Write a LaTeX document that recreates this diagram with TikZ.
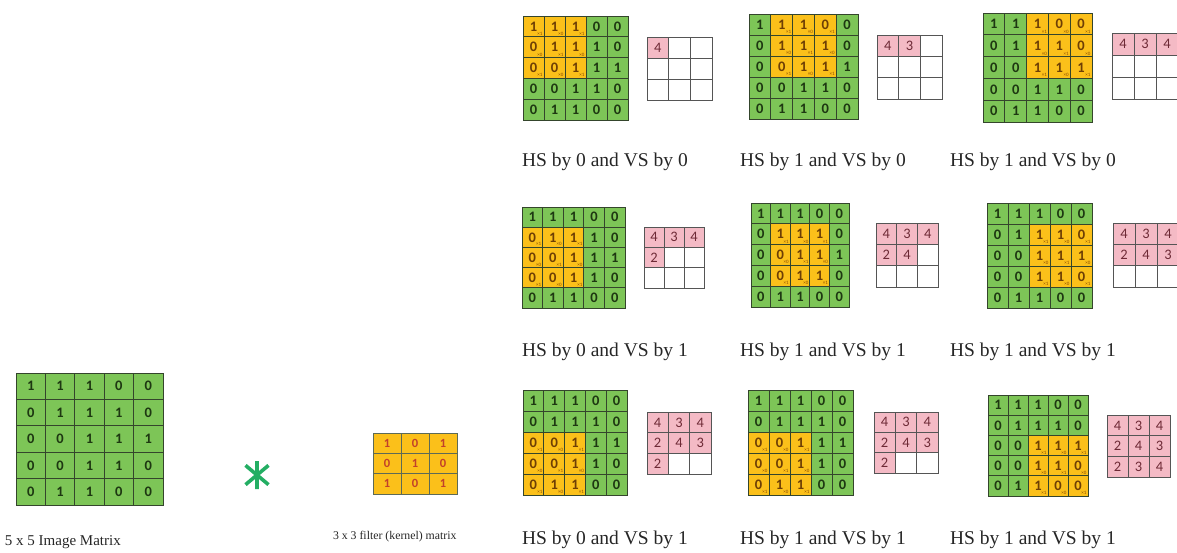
\documentclass[tikz,border=0pt]{standalone}
\usepackage{fontspec}
\setmainfont{Liberation Serif}
\newfontfamily\numfont{Carlito}
\usetikzlibrary{positioning,calc}
\definecolor{cellgreen}{HTML}{7DC557}
\definecolor{gridink}{HTML}{34452C}
\definecolor{digitgreen}{HTML}{1E3812}
\definecolor{window}{HTML}{FBC01A}
\definecolor{digitbrown}{HTML}{6E3F05}
\definecolor{kernred}{HTML}{C2412A}
\definecolor{outpink}{HTML}{F4BAC5}
\definecolor{digitpink}{HTML}{6E2A36}
\definecolor{stargreen}{HTML}{23AE63}
\definecolor{outline}{HTML}{555555}

\begin{document}
\begin{tikzpicture}[x=1pt,y=-1pt,every node/.style={inner sep=0pt,outer sep=0pt},
  gcell/.style={draw=gridink,line width=.8pt,fill=cellgreen,text=digitgreen,font=\numfont\bfseries\fontsize{14.5}{14.5}\selectfont},
  wcell/.style={gcell,fill=window,text=digitbrown},
  kcell/.style={draw=gridink!80,line width=.6pt,fill=window,text=kernred,font=\numfont\bfseries\fontsize{12.5}{12.5}\selectfont},
  ocell/.style={draw=outline,line width=.8pt,fill=white},
  pcell/.style={ocell,fill=outpink,text=digitpink,font=\numfont\fontsize{14.5}{14.5}\selectfont},
  ksub/.style={anchor=south east,text=digitbrown!80!orange,font=\numfont\fontsize{5}{5}\selectfont},
  caption/.style={anchor=west,text=black!85}]
\path[use as bounding box] (0,0) rectangle (1177,552);

% input image
\foreach \row [count=\r from 0] in {{1,1,1,0,0},{0,1,1,1,0},{0,0,1,1,1},{0,0,1,1,0},{0,1,1,0,0}}
  \foreach \v [count=\c from 0] in \row
    \node[gcell,minimum width=29.4pt,minimum height=26.4pt] (img-\r-\c) at ({16+(\c+.5)*29.4},{373+(\r+.5)*26.4}) {\v};
\node[caption,font=\fontsize{15}{15}\selectfont] (imglabel) at (5,542) {5 x 5 Image Matrix};

% convolution sign
\coordinate (star) at (257,475);
\draw[stargreen,line width=3.6pt] ($(star)+(0,-14)$) -- ($(star)+(0,14)$)
  ($(star)+(140:15)$) -- ($(star)+(-40:15)$) ($(star)+(40:15)$) -- ($(star)+(220:15)$);

% kernel
\foreach \row [count=\r from 0] in {{1,0,1},{0,1,0},{1,0,1}}
  \foreach \v [count=\c from 0] in \row
    \node[kcell,minimum width=28pt,minimum height=20.3pt] (ker-\r-\c) at ({373+(\c+.5)*28},{433+(\r+.5)*20.3}) {\v};
\node[caption,font=\fontsize{11.8}{12}\selectfont] (kerlabel) at (333,537) {3 x 3 filter (kernel) matrix};

% sliding window panels
\foreach \pn/\bx/\by/\bw/\bh/\sx/\sy/\sw/\sh/\dc/\dr/\nf in {
  a/523/16/21/20.8/647/37/21.7/21/0/0/1,
  b/749/14/21.8/21/877/35/21.7/21.3/1/0/2,
  c/983/13/21.8/21.8/1112/33/22/22/2/0/3,
  d/522/207/20.6/20.2/644/227/20/20.3/0/1/4,
  e/751/203/19.6/20.8/876/223/20.7/21.3/1/1/5,
  f/987/203/21/21/1113/223/22/21.3/2/1/6,
  g/523/390/20.8/21/647/412/21.3/20.7/0/2/7,
  h/748/390/21/21/874/412/21.3/20.3/0/2/7,
  i/988/395/20/20.2/1107/415/21/20.7/2/2/9}
{
  \foreach \row [count=\r from 0] in {{1,1,1,0,0},{0,1,1,1,0},{0,0,1,1,1},{0,0,1,1,0},{0,1,1,0,0}}
    \foreach \v [count=\c from 0] in \row {
      \pgfmathtruncatemacro\inwin{(\c>=\dc)&&(\c<\dc+3)&&(\r>=\dr)&&(\r<\dr+3)}
      \ifnum\inwin=1
        \pgfmathtruncatemacro\kv{mod(\c-\dc+\r-\dr+1,2)}
        \node[wcell,minimum width=\bw pt,minimum height=\bh pt] (\pn-\r-\c) at ({\bx+(\c+.5)*\bw},{\by+(\r+.5)*\bh}) {\v};
        \node[ksub] (\pn-k\r-\c) at ($(\pn-\r-\c.south east)+(-1.5,-1.5)$) {×\kv};
      \else
        \node[gcell,minimum width=\bw pt,minimum height=\bh pt] (\pn-\r-\c) at ({\bx+(\c+.5)*\bw},{\by+(\r+.5)*\bh}) {\v};
      \fi
    }
  \foreach \v [count=\i from 0] in {4,3,4,2,4,3,2,3,4} {
    \pgfmathtruncatemacro\rr{div(\i,3)}
    \pgfmathtruncatemacro\cc{mod(\i,3)}
    \ifnum\i<\nf
      \node[pcell,minimum width=\sw pt,minimum height=\sh pt] (\pn-o\rr-\cc) at ({\sx+(\cc+.5)*\sw},{\sy+(\rr+.5)*\sh}) {\v};
    \else
      \node[ocell,minimum width=\sw pt,minimum height=\sh pt] (\pn-o\rr-\cc) at ({\sx+(\cc+.5)*\sw},{\sy+(\rr+.5)*\sh}) {};
    \fi
  }
}

% captions
\foreach \pn/\lx/\ly/\txt in {a/522/162/HS by 0 and VS by 0,b/740/162/HS by 1 and VS by 0,c/950/162/HS by 1 and VS by 0,
  d/522/352/HS by 0 and VS by 1,e/740/352/HS by 1 and VS by 1,f/950/352/HS by 1 and VS by 1,
  g/522/540/HS by 0 and VS by 1,h/740/540/HS by 1 and VS by 1,i/950/540/HS by 1 and VS by 1}
  \node[caption,font=\fontsize{19.5}{20}\selectfont] (\pn-label) at (\lx,\ly) {\txt};

\end{tikzpicture}
\end{document}
